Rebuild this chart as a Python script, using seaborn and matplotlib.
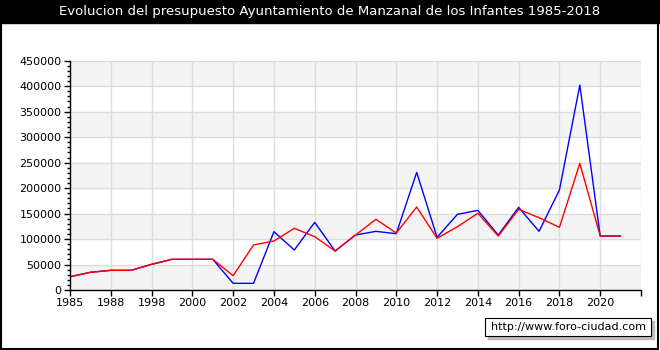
import pandas as pd
import matplotlib
matplotlib.use("Agg")
import matplotlib.pyplot as plt
import seaborn as sns
from matplotlib.patches import Rectangle
from matplotlib.ticker import MultipleLocator

# Years on a categorical axis (gaps between 1988 and 1998 are not shown)
years = ["1985", "1986", "1988", "1989", "1998", "1999", "2000", "2001",
         "2002", "2003", "2004", "2005", "2006", "2007", "2008", "2009",
         "2010", "2011", "2012", "2013", "2014", "2015", "2016", "2017",
         "2018", "2019", "2020", "2021"]

# blue series
ingresos = [26000, 34700, 38600, 38600, 50400, 60200, 60200, 60200,
            13100, 13100, 114400, 78500, 132800, 76500, 107900, 115100,
            110500, 230900, 103400, 148500, 156300, 107900, 162200, 115100,
            196200, 402200, 105900, 105900]

# red series
gastos = [26000, 34700, 38600, 38600, 50400, 60200, 60200, 60200,
          28100, 88300, 96100, 121000, 104600, 76500, 107900, 138700,
          111800, 162800, 101400, 124200, 150500, 105900, 158300, 141900,
          123000, 248500, 105900, 105900]

df = pd.DataFrame({
    "pos": range(len(years)),
    "year": years,
    "ingresos": ingresos,
    "gastos": gastos,
})

sns.set_style("white")
plt.rcParams["font.family"] = ["DejaVu Sans"]

fig = plt.figure(figsize=(6.6, 3.5), dpi=100)
ax = fig.add_axes([70 / 660, 60 / 350, 571 / 660, 229.3 / 350])

# alternating bands
for i, lo in enumerate(range(0, 450000, 50000)):
    ax.axhspan(lo, lo + 50000, color="#f4f4f4" if i % 2 == 0 else "white",
               zorder=0, lw=0)

sns.lineplot(data=df, x="pos", y="ingresos", color="blue", lw=1, ax=ax)
sns.lineplot(data=df, x="pos", y="gastos", color="red", lw=1, ax=ax)

ax.set_xlim(0, len(years))
ax.set_ylim(0, 450000)
ax.set_xticks(range(0, len(years) + 1, 2))
ax.set_xticklabels(years[::2] + [""])
ax.set_yticks(range(0, 450001, 50000))
ax.set_yticklabels([str(v) for v in range(0, 450001, 50000)])
ax.yaxis.set_minor_locator(MultipleLocator(10000))
ax.set_xlabel("")
ax.set_ylabel("")

ax.grid(True, color="#dddddd", lw=1, zorder=1)
ax.set_axisbelow(True)
for s in ["top", "right"]:
    ax.spines[s].set_visible(False)
for s in ["left", "bottom"]:
    ax.spines[s].set_color("black")
    ax.spines[s].set_linewidth(1)

ax.tick_params(axis="both", which="major", direction="out", length=4,
               width=1, color="black", labelcolor="black", labelsize=8,
               pad=2, left=True, bottom=True)
ax.tick_params(axis="y", which="minor", direction="out", length=2,
               width=1, color="black", left=True)

# title bar
fig.patches.append(Rectangle((0, 1 - 23 / 350), 1, 23 / 350,
                             transform=fig.transFigure, color="black", zorder=0))
fig.text(0.5, 1 - 12 / 350, "Evolucion del presupuesto Ayuntamiento de Manzanal de los Infantes 1985-2018",
         color="white", ha="center", va="center", fontsize=9.5)

# frame around the figure
fig.patches.append(Rectangle((0.001, 0.002), 0.996, 0.996, transform=fig.transFigure,
                             fill=False, edgecolor="black", lw=1.5))

# watermark box with shadow
fig.patches.append(Rectangle((488 / 660, 1 - 339 / 350), 166 / 660, 18 / 350,
                             transform=fig.transFigure, color="#bbbbbb", zorder=1))
fig.patches.append(Rectangle((485 / 660, 1 - 336 / 350), 166 / 660, 18 / 350,
                             transform=fig.transFigure, facecolor="white",
                             edgecolor="black", lw=0.8, zorder=2))
fig.text(568 / 660, 1 - 327 / 350, "http://www.foro-ciudad.com", ha="center", va="center",
         fontsize=8, color="black", zorder=3)

fig.savefig("out.png", dpi=100)
